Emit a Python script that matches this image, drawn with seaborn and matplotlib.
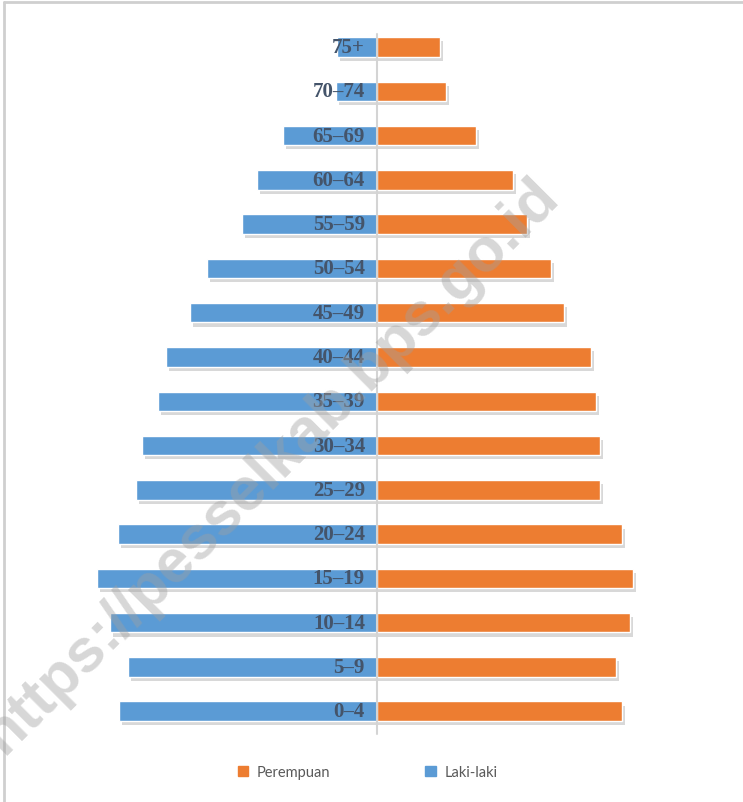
import matplotlib
matplotlib.use("Agg")
from matplotlib import pyplot as plt
from matplotlib import patheffects as pe
from matplotlib.patches import Patch
import seaborn as sns
import pandas as pd

# data (bar lengths, relative units)
age_groups = ["75+", "70–74", "65–69", "60–64", "55–59", "50–54", "45–49", "40–44",
              "35–39", "30–34", "25–29", "20–24", "15–19", "10–14", "5–9", "0–4"]
laki_laki = [40, 41, 94, 120, 135, 170, 187, 211, 219, 235, 241, 259, 280, 267, 249, 258]
perempuan = [63, 69, 99, 136, 150, 174, 187, 214, 219, 223, 223, 245, 256, 253, 239, 245]

blue = "#5b9bd5"
orange = "#ed7d31"

df = pd.concat([
    pd.DataFrame({"umur": age_groups, "nilai": [-v for v in laki_laki], "jk": "Laki-laki"}),
    pd.DataFrame({"umur": age_groups, "nilai": perempuan, "jk": "Perempuan"}),
])

sns.set_style("white")
fig = plt.figure(figsize=(7.43, 8.03), dpi=100)
ax = fig.add_axes([0, 0, 1, 1])

sns.barplot(data=df, y="umur", x="nilai", hue="jk", order=age_groups,
            palette={"Laki-laki": blue, "Perempuan": orange}, saturation=1,
            dodge=False, width=0.44, orient="h", legend=False, ax=ax)

# soft drop shadow like the original
for bar in ax.patches:
    bar.set_path_effects([pe.SimplePatchShadow(offset=(2, -3), shadow_rgbFace="#7f7f7f", alpha=0.3),
                          pe.Normal()])

ax.set_xlim(-377, 366)
ax.set_ylim(17.05, -1.084)
ax.axvline(0, ymin=0.085, ymax=0.956, color="#d4d4d4", lw=1.5, zorder=4)

for i, lab in enumerate(age_groups):
    ax.text(-12, i, lab, ha="right", va="center", fontsize=15, fontweight="bold",
            family="Liberation Serif", color="#44546a", zorder=5)

ax.axis("off")

handles = [Patch(color=orange, label="Perempuan"), Patch(color=blue, label="Laki-laki")]
leg = ax.legend(handles=handles, loc="center", bbox_to_anchor=(0.495, 0.037),
                bbox_transform=fig.transFigure, ncol=2, frameon=False,
                handlelength=0.7, handleheight=0.7, handletextpad=0.6, columnspacing=6.5,
                prop={"family": "Lato", "size": 10.5})
for t in leg.get_texts():
    t.set_color("#595959")

# watermark
fig.text(550, 803 - 188, "https://pesselkab.bps.go.id", transform=None,
         rotation=45, rotation_mode="anchor", ha="right", va="center",
         fontsize=44, fontweight="bold", family="Liberation Sans",
         color="#a0a0a0", alpha=0.42, zorder=10)

# outer frame lines (top and left)
fig.add_artist(plt.Line2D([4 / 743, 1], [1 - 3 / 803, 1 - 3 / 803], transform=fig.transFigure,
                          color="#cfcfcf", lw=2))
fig.add_artist(plt.Line2D([4 / 743, 4 / 743], [0, 1 - 3 / 803], transform=fig.transFigure,
                          color="#cfcfcf", lw=2))

fig.savefig("out.png", dpi=100)
